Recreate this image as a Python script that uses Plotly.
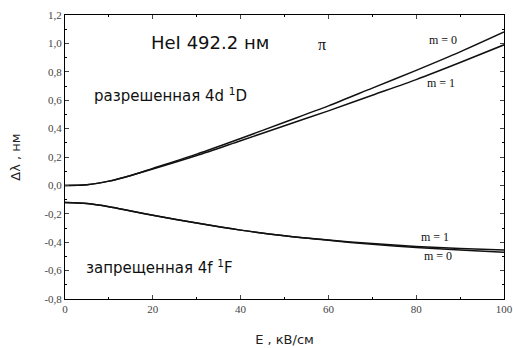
import plotly.graph_objects as go

E = [0, 5, 10, 15, 20, 30, 40, 50, 60, 70, 80, 90, 100]
allowed_m0 = [0, 0.005, 0.03, 0.07, 0.12, 0.22, 0.33, 0.445, 0.56, 0.685, 0.81, 0.94, 1.08]
allowed_m1 = [0, 0.005, 0.03, 0.07, 0.115, 0.21, 0.315, 0.42, 0.525, 0.635, 0.745, 0.865, 0.99]
forbidden_m1 = [-0.12, -0.128, -0.15, -0.18, -0.21, -0.265, -0.315, -0.355, -0.385, -0.41, -0.43, -0.445, -0.455]
forbidden_m0 = [-0.12, -0.128, -0.15, -0.18, -0.21, -0.265, -0.315, -0.355, -0.387, -0.415, -0.437, -0.455, -0.47]

y_ticks = [1.2, 1.0, 0.8, 0.6, 0.4, 0.2, 0.0, -0.2, -0.4, -0.6, -0.8]
y_labels = ["1,2", "1,0", "0,8", "0,6", "0,4", "0,2", "0,0", "-0,2", "-0,4", "-0,6", "-0,8"]
x_ticks = [0, 20, 40, 60, 80, 100]
x_labels = ["0", "20", "40", "60", "80", "100"]

fig = go.Figure()
for ys in [allowed_m0, allowed_m1, forbidden_m1, forbidden_m0]:
    fig.add_trace(go.Scatter(x=E, y=ys, mode="lines",
                             line=dict(color="#111", width=1.5, shape="spline", smoothing=0.8),
                             showlegend=False, hoverinfo="skip"))

serif = "Liberation Serif"
sans = "DejaVu Sans"

fig.update_layout(
    width=513, height=348,
    margin=dict(l=65, r=9, t=15, b=49),
    paper_bgcolor="white", plot_bgcolor="white",
    xaxis=dict(range=[0, 100], tickvals=x_ticks, ticktext=x_labels, ticks="inside", ticklen=4,
               minor=dict(ticks="inside", ticklen=2, dtick=10, tickcolor="black"),
               showline=True, linecolor="black", linewidth=1, mirror="ticks", showgrid=False,
               zeroline=False, tickfont=dict(family=serif, size=11, color="#444"), automargin=False,
               title=dict(text="E , кВ/см", font=dict(family=sans, size=13, color="#222"), standoff=20)),
    yaxis=dict(range=[-0.8, 1.2], tickvals=y_ticks, ticktext=y_labels, ticks="inside", ticklen=4,
               minor=dict(ticks="inside", ticklen=2, dtick=0.1, tickcolor="black"),
               showline=True, linecolor="black", linewidth=1, mirror="ticks", showgrid=False,
               zeroline=False, tickfont=dict(family=serif, size=11, color="#444"), automargin=False,
               title=dict(text="Δλ , нм", font=dict(family=sans, size=13, color="#222"), standoff=20)),
)

def ann(x, y, text, size, family=sans):
    fig.add_annotation(x=x, y=y, xref="x", yref="y", text=text, showarrow=False,
                       font=dict(family=family, size=size, color="#111"), xanchor="center", yanchor="middle")

ann(33.0, 1.005, "HeI 492.2 нм", 18)
ann(58.5, 0.99, "π", 16, serif)
ann(24.1, 0.64, "разрешенная 4d <sup>1</sup>D", 15)
ann(21.6, -0.575, "запрещенная 4f <sup>1</sup>F", 15)
ann(86.1, 1.024, "m = 0", 12, serif)
ann(85.6, 0.72, "m = 1", 12, serif)
ann(84.3, -0.36, "m = 1", 12, serif)
ann(85.0, -0.495, "m = 0", 12, serif)

fig.write_html("out.html")
